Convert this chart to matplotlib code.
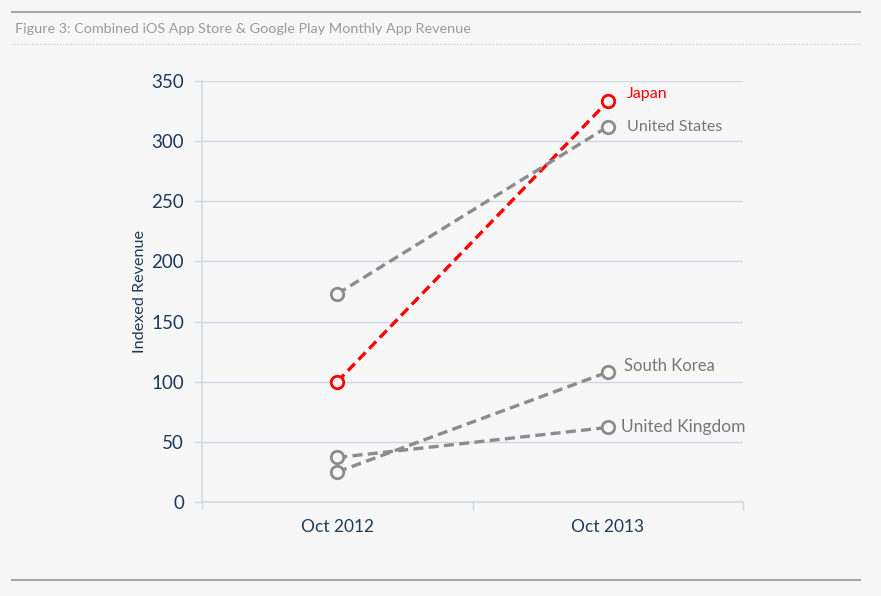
import matplotlib
matplotlib.use("Agg")
import matplotlib.pyplot as plt
from matplotlib.lines import Line2D

plt.rcParams['font.family'] = ['Lato', 'DejaVu Sans']

# data
periods = ["Oct 2012", "Oct 2013"]
countries = ["Japan", "United States", "South Korea", "United Kingdom"]
japan = [100, 333]
united_states = [173, 312]
south_korea = [25, 108]
united_kingdom = [37, 62]
series = [japan, united_states, south_korea, united_kingdom]
yticks = [0, 50, 100, 150, 200, 250, 300, 350]

bg = "#f7f7f7"
navy = "#1f3a5a"
gridc = "#cfd8e2"
grey = "#8c8c8c"
red = "#ff0000"

fig = plt.figure(figsize=(8.81, 5.96), dpi=100, facecolor=bg)
ax = fig.add_axes([202/881, 94/596, 541/881, 421/596])
ax.set_facecolor(bg)

x = list(range(len(periods)))
label_dx = [0.07, 0.07, 0.06, 0.05]
label_dy = [6, 0, 5, 0]
label_fs = [11.5, 11.5, 12, 12.5]
for name, vals, dx, dy, fs in zip(countries, series, label_dx, label_dy, label_fs):
    col = red if name == "Japan" else grey
    ax.plot(x, vals, linestyle=(0, (3, 1.6)), color=col, lw=2.4,
            marker="o", markersize=9, markerfacecolor=bg,
            markeredgecolor=col, markeredgewidth=2, zorder=3, clip_on=False)
    ax.text(x[-1] + dx, vals[-1] + dy, name, color=red if name == "Japan" else "#777777",
            fontsize=fs, va="center", ha="left")

ax.set_xlim(-0.5, 1.5)
ax.set_ylim(0, 350)
ax.set_yticks(yticks)
ax.set_xticks(x)
ax.set_xticklabels(periods)
ax.set_xticks([-0.5, 0.5, 1.5], minor=True)
ax.tick_params(axis="x", which="major", length=0, pad=12, labelsize=12.5, labelcolor=navy)
ax.tick_params(axis="x", which="minor", length=6, color=gridc, width=1)
ax.tick_params(axis="y", length=6, color=gridc, width=1, labelsize=13.5, labelcolor=navy, pad=7)
ax.grid(axis="y", color=gridc, lw=1)
ax.set_axisbelow(True)
for s in ["top", "right"]:
    ax.spines[s].set_visible(False)
for s in ["left", "bottom"]:
    ax.spines[s].set_color(gridc)
    ax.spines[s].set_linewidth(1.2)
ax.set_ylabel("Indexed Revenue", color=navy, fontsize=11.6, labelpad=3)

# figure title and rules
fig.add_artist(Line2D([12/881, 860/881], [1 - 12/596, 1 - 12/596], color="#a8a8a8", lw=1.5))
fig.add_artist(Line2D([12/881, 860/881], [1 - 44/596, 1 - 44/596], color="#c8c8c8", lw=0.8, ls=(0, (1, 1.5))))
fig.add_artist(Line2D([12/881, 860/881], [1 - 580/596, 1 - 580/596], color="#a8a8a8", lw=1.5))
fig.text(15/881, 1 - 29/596, "Figure 3: Combined iOS App Store & Google Play Monthly App Revenue",
         color="#9a9a9a", fontsize=10.4, va="center", ha="left")

fig.savefig("out.png", dpi=100, facecolor=bg)
